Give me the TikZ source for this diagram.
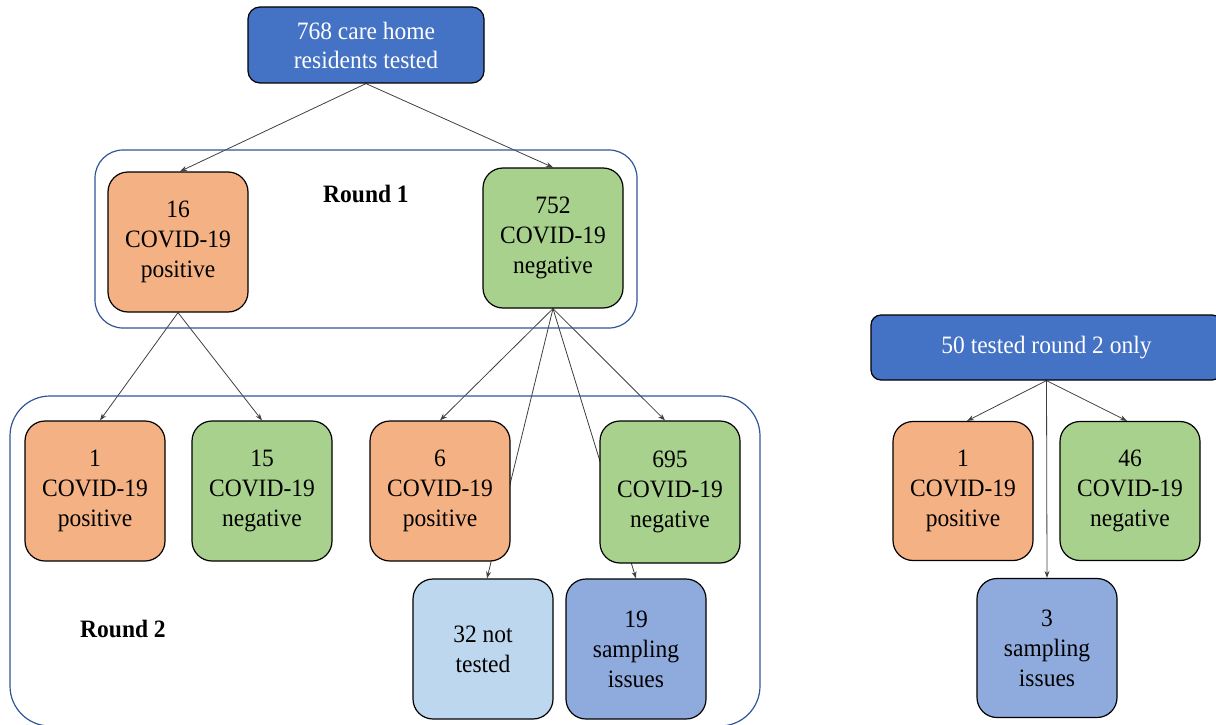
\documentclass[tikz,border=0pt]{standalone}
\usepackage{fontspec}
\setmainfont{Liberation Serif}[FakeStretch=0.94]
\usetikzlibrary{arrows.meta,backgrounds}
\definecolor{cOrange}{HTML}{F4B183}
\definecolor{cGreen}{HTML}{A9D18E}
\definecolor{cDark}{HTML}{4472C4}
\definecolor{cLight}{HTML}{BDD7EE}
\definecolor{cMid}{HTML}{8FAADC}
\definecolor{cFrame}{HTML}{2F5597}
\definecolor{cLine}{HTML}{404040}
\tikzset{
  box/.style={draw=black, line width=1.2pt, rounded corners=20pt, minimum width=140pt, minimum height=140pt, align=center, inner sep=2pt, font=\fontsize{25}{30}\selectfont},
  posbox/.style={box, fill=cOrange},
  negbox/.style={box, fill=cGreen},
  notbox/.style={box, fill=cLight},
  sampbox/.style={box, fill=cMid},
  headbox/.style={draw=black, line width=1.2pt, fill=cDark, text=white, align=center, inner sep=2pt, font=\fontsize{25}{29}\selectfont},
  frame/.style={draw=cFrame, line width=1.2pt, fill=none},
  roundlabel/.style={font=\fontsize{25}{29}\selectfont\bfseries},
  conn/.style={draw=cLine, line width=0.8pt, -{Stealth[length=7pt,width=5pt]}}
}
\begin{document}
\begin{tikzpicture}[x=1pt,y=-1pt]
\useasboundingbox (0,0) rectangle (1216,725);
% containers
\node[frame, rounded corners=28pt, minimum width=542pt, minimum height=178pt] (r1) at (366,239) {};
\node[frame, rounded corners=40pt, minimum width=750pt, minimum height=330pt] (r2) at (385,561) {};
\node[roundlabel] (l1) at (366,194) {Round 1};
\node[roundlabel] (l2) at (123,629) {Round 2};
% top
\node[headbox, rounded corners=12pt, minimum width=236pt, minimum height=76pt] (top) at (366,45) {768 care home\\residents tested};
\node[posbox] (n16) at (178,242) {16\\COVID-19\\positive};
\node[negbox] (n752) at (553,238) {752\\COVID-19\\negative};
\node[posbox] (n1) at (95,491) {1\\COVID-19\\positive};
\node[negbox] (n15) at (262,491) {15\\COVID-19\\negative};
\node[posbox] (n6) at (440,491) {6\\COVID-19\\positive};
\node[negbox, minimum height=142pt] (n695) at (670,492) {695\\COVID-19\\negative};
\node[notbox] (n32) at (483,649) {32 not\\tested};
\node[sampbox] (n19) at (636,649) {19\\sampling\\issues};
% right part
\node[headbox, rounded corners=10pt, minimum width=351pt, minimum height=65pt] (top2) at (1046.5,347.5) {50 tested round 2 only};
\node[posbox, minimum height=139pt] (m1) at (963,491) {1\\COVID-19\\positive};
\node[negbox, minimum height=139pt] (m46) at (1130,491) {46\\COVID-19\\negative};
\node[sampbox, minimum height=139pt] (m3) at (1047,648) {3\\sampling\\issues};
\begin{pgfonlayer}{background}
\draw[conn] (top.south) -- ([xshift=2pt]n16.north);
\draw[conn] (top.south) -- (n752.north);
\draw[conn] (n16.south) -- ([xshift=5pt]n1.north);
\draw[conn] (n16.south) -- (n15.north);
\draw[conn] (n752.south) -- (n6.north);
\draw[conn] (n752.south) -- ([xshift=-5pt]n695.north);
\draw[conn] (n752.south) -- ([xshift=4pt]n32.north);
\draw[conn] (n752.south) -- (n19.north);
\draw[conn] (top2.south) -- ([xshift=4pt]m1.north);
\draw[conn] (top2.south) -- ([xshift=-3pt]m46.north);
\draw[conn] (top2.south) -- (m3.north);
\end{pgfonlayer}
\end{tikzpicture}
\end{document}
